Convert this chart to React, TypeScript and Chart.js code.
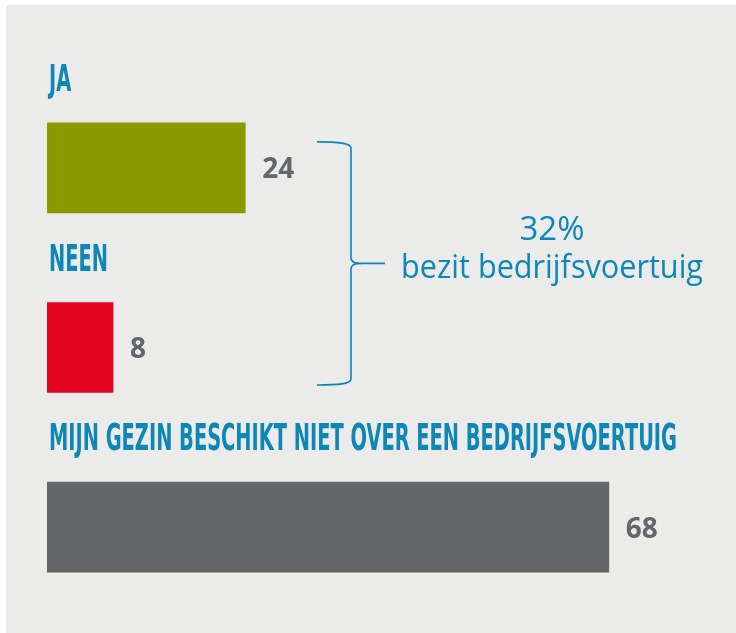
import React, { useEffect, useRef } from "react";
import { Chart, registerables } from "chart.js";

Chart.register(...registerables);

const categories = ["JA", "NEEN", "MIJN GEZIN BESCHIKT NIET OVER EEN BEDRIJFSVOERTUIG"];
const values = [24, 8, 68];
const barColors = ["#8a9a00", "#e30520", "#636669"];
const groupIndices = [0, 1];
const groupPercent = "32%";
const groupText = "bezit bedrijfsvoertuig";
const xMax = 80;

const BLUE = "#0e86b6";
const GRAY_TEXT = "#63666a";

export default function App() {
  const ref = useRef<HTMLCanvasElement>(null);

  useEffect(() => {
    const canvas = ref.current!;
    const plugin = {
      id: "infographic",
      beforeDraw(chart: any) {
        const { ctx, width, height } = chart;
        ctx.save();
        ctx.fillStyle = "#ffffff";
        ctx.fillRect(0, 0, width, height);
        ctx.fillStyle = "#ebebea";
        ctx.fillRect(6, 5, width - 6, height - 5);
        ctx.restore();
      },
      afterDatasetsDraw(chart: any) {
        const { ctx, chartArea } = chart;
        const bars = chart.getDatasetMeta(0).data;
        ctx.save();

        // category labels above bars (condensed bold)
        ctx.font = "bold 37px 'DejaVu Sans', sans-serif";
        ctx.fillStyle = BLUE;
        ctx.textBaseline = "alphabetic";
        ctx.textAlign = "left";
        const longest = categories.reduce((a, b) => (b.length > a.length ? b : a));
        const squeeze = 628 / ctx.measureText(longest).width;
        categories.forEach((label, i) => {
          const b = bars[i];
          const top = b.y - b.height / 2;
          ctx.save();
          ctx.translate(chartArea.left + 2, top - 32);
          ctx.scale(squeeze, 1);
          ctx.fillText(label, 0, 0);
          ctx.restore();
        });

        // value labels
        ctx.font = "bold 28px 'Open Sans', sans-serif";
        ctx.fillStyle = GRAY_TEXT;
        values.forEach((v, i) => {
          const b = bars[i];
          ctx.fillText(String(v), b.x + 17, b.y + 10.5);
        });

        // brace
        const first = bars[groupIndices[0]];
        const last = bars[groupIndices[groupIndices.length - 1]];
        const yTop = first.y - 26;
        const yBot = last.y + 37.5;
        const yMid = (yTop + yBot) / 2;
        const xL = chartArea.left + 270;
        const xV = chartArea.left + 304;
        const xT = chartArea.left + 338;
        ctx.strokeStyle = BLUE;
        ctx.lineWidth = 1.6;
        ctx.beginPath();
        ctx.moveTo(xL, yTop);
        ctx.bezierCurveTo(xL + 22, yTop, xV, yTop + 1, xV, yTop + 6);
        ctx.lineTo(xV, yMid - 6);
        ctx.bezierCurveTo(xV, yMid - 1, xV + 4, yMid, xV + 12, yMid);
        ctx.lineTo(xT, yMid);
        ctx.moveTo(xV + 12, yMid);
        ctx.bezierCurveTo(xV + 4, yMid, xV, yMid + 1, xV, yMid + 6);
        ctx.lineTo(xV, yBot - 6);
        ctx.bezierCurveTo(xV, yBot - 1, xL + 22, yBot, xL, yBot);
        ctx.stroke();

        // group text
        const cx = chartArea.left + 505;
        ctx.fillStyle = BLUE;
        ctx.font = "33px 'Open Sans', sans-serif";
        ctx.textAlign = "center";
        ctx.fillText(groupPercent, cx, yMid - 23);
        const w = ctx.measureText(groupText).width;
        const s2 = 302 / w;
        ctx.save();
        ctx.translate(cx, yMid + 15);
        ctx.scale(s2, 1);
        ctx.fillText(groupText, 0, 0);
        ctx.restore();

        ctx.restore();
      },
    };

    const chart = new Chart(canvas, {
      type: "bar",
      data: {
        labels: categories,
        datasets: [
          {
            data: values,
            backgroundColor: barColors,
            borderWidth: 0,
            barThickness: 90,
          },
        ],
      },
      options: {
        indexAxis: "y",
        animation: false,
        responsive: false,
        devicePixelRatio: 1,
        layout: { padding: { left: 47, right: 28, top: 78, bottom: 16 } },
        plugins: { legend: { display: false }, tooltip: { enabled: false } },
        scales: {
          x: { display: false, min: 0, max: xMax },
          y: { display: false },
        },
      },
      plugins: [plugin],
    } as any);

    return () => chart.destroy();
  }, []);

  return (
    <div style={{ position: "fixed", left: 0, top: 0, width: 736, height: 633 }}>
      <canvas ref={ref} width={736} height={633} style={{ display: "block" }} />
    </div>
  );
}
